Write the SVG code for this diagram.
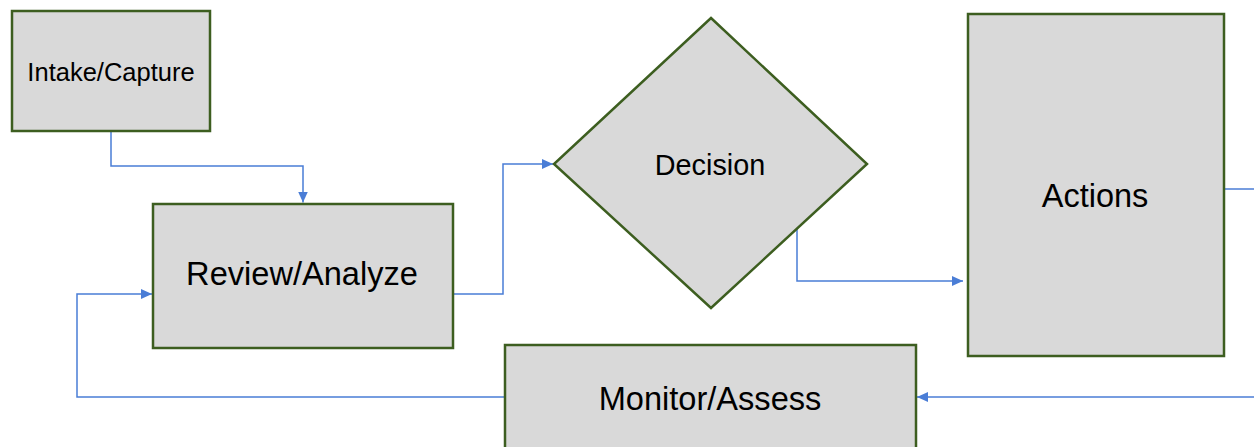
<svg xmlns="http://www.w3.org/2000/svg" width="1254" height="447" viewBox="0 0 1254 447">
  <style>
    .node { fill: #d9d9d9; stroke: #3d5e20; stroke-width: 2.5; }
    .lbl { font-family: "Liberation Sans", Arial, sans-serif; fill: #000000; text-anchor: middle; }
    .conn { fill: none; stroke: #4a7dd6; stroke-width: 1.5; }
  </style>
  <defs>
    <marker id="arrow" markerUnits="userSpaceOnUse" markerWidth="12" markerHeight="10" refX="11" refY="5" orient="auto">
      <path d="M0,0 L11,5 L0,10 z" fill="#4a7dd6"/>
    </marker>
  </defs>
  <rect width="1254" height="447" fill="#ffffff"/>

  <g id="connectors">
    <path class="conn" d="M111,131 V166 H303 V202.5" marker-end="url(#arrow)"/>
    <path class="conn" d="M453,294 H503 V164 H553" marker-end="url(#arrow)"/>
    <path class="conn" d="M797,229 V281 H963" marker-end="url(#arrow)"/>
    <path class="conn" d="M1224,189 H1254"/>
    <path class="conn" d="M1254,397 H917" marker-end="url(#arrow)"/>
    <path class="conn" d="M505,397 H77 V294 H152" marker-end="url(#arrow)"/>
  </g>

  <g id="intake">
    <rect class="node" x="12" y="11" width="198" height="120"/>
    <text class="lbl" x="111" y="81" font-size="25.5">Intake/Capture</text>
  </g>

  <g id="review">
    <rect class="node" x="153" y="204" width="300" height="144"/>
    <text class="lbl" x="302" y="285" font-size="32.6">Review/Analyze</text>
  </g>

  <g id="decision">
    <polygon class="node" points="711,18 867,164 711,308 554,164"/>
    <text class="lbl" x="710" y="175" font-size="28.8">Decision</text>
  </g>

  <g id="actions">
    <rect class="node" x="968" y="14" width="256" height="342"/>
    <text class="lbl" x="1095" y="207" font-size="32.5">Actions</text>
  </g>

  <g id="monitor">
    <rect class="node" x="505" y="345" width="411" height="110"/>
    <text class="lbl" x="710" y="410" font-size="32.6">Monitor/Assess</text>
  </g>
</svg>
